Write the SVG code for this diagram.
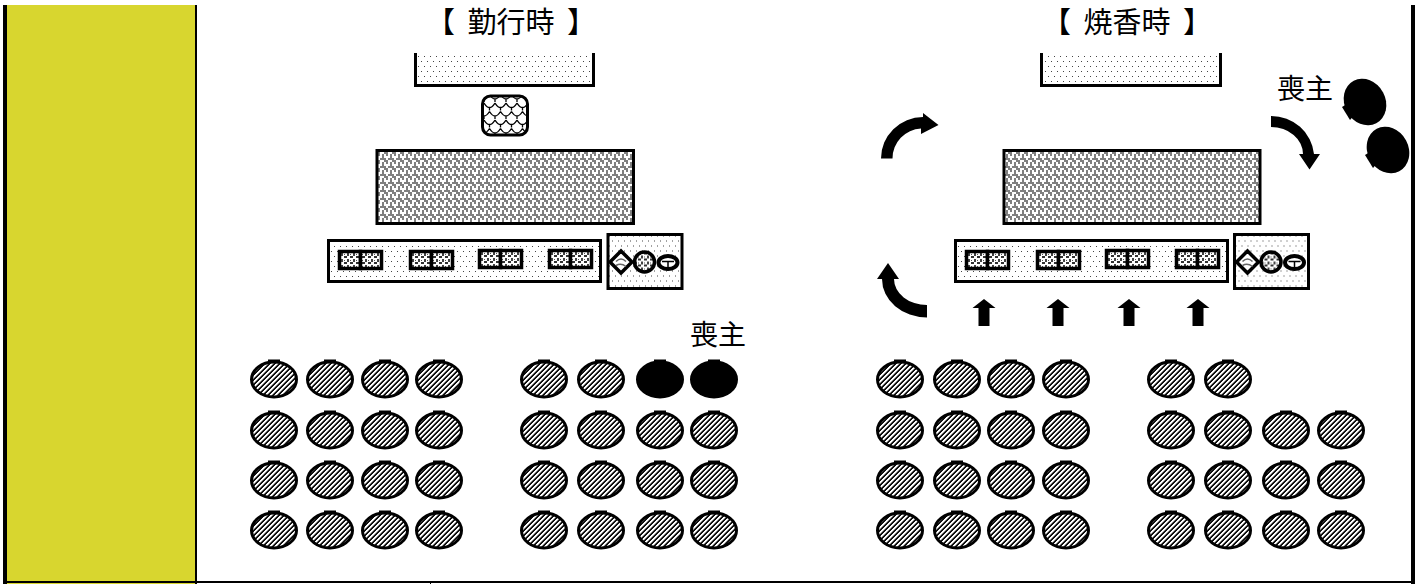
<svg xmlns="http://www.w3.org/2000/svg" width="1415" height="584" viewBox="0 0 1415 584">
<style>
text{font-family:"Noto Sans CJK JP","Liberation Sans",sans-serif;fill:#000;font-size:28px}
.t{word-spacing:6px;font-size:29px}
.b{stroke:#000;stroke-width:3}
.dot{fill:url(#dots)}
.wv{fill:url(#weave)}
.cell{fill:url(#cells);stroke:#000;stroke-width:3.500}
.a{fill:#000}
</style>
<defs>
<pattern id="dots" width="6" height="10" patternUnits="userSpaceOnUse"><rect width="6" height="10" fill="#fff"/><rect x="1" y="1" width="1" height="1" fill="#444"/><rect x="4" y="6" width="1" height="1" fill="#444"/></pattern>
<pattern id="weave" width="8" height="8" patternUnits="userSpaceOnUse"><rect width="8" height="8" fill="#fff"/><path shape-rendering="crispEdges" fill="#808080" d="M0 0h4v2h-4zM2 2h2v2h-2zM6 2h2v4h-2zM0 6h2v2h-2zM4 6h4v2h-4z"/></pattern>
<pattern id="cells" width="6" height="6" patternUnits="userSpaceOnUse"><rect width="6" height="6" fill="#fff"/><rect x="0" y="0" width="3" height="2" fill="#333"/><rect x="3" y="3" width="2" height="3" fill="#444"/><rect x="0" y="4" width="1" height="1" fill="#555"/></pattern>
<pattern id="scale" width="11" height="17" patternUnits="userSpaceOnUse"><rect width="11" height="17" fill="#fff"/><path d="M0 1Q5.500 10 11 1M-5.500 9.500Q0 18.500 5.500 9.500M5.500 9.500Q11 18.500 16.500 9.500M5.500 5.500V8.500M0 14V17M11 14V17" fill="none" stroke="#000" stroke-width="1.300"/></pattern>
<pattern id="hatch" width="5" height="5" patternUnits="userSpaceOnUse"><rect width="5" height="5" fill="#fff"/><path shape-rendering="crispEdges" fill="#999" d="M2 0h1v1h-1zM1 1h1v1h-1zM0 2h1v1h-1zM4 3h1v1h-1zM3 4h1v1h-1z"/><path shape-rendering="crispEdges" fill="#111" d="M3 0h2v1h-2zM2 1h2v1h-2zM1 2h2v1h-2zM0 3h2v1h-2zM0 4h1v1h-1zM4 4h1v1h-1z"/></pattern>
<g id="p"><rect x="-6" y="-20.500" width="12" height="5" fill="#000"/><ellipse cx="0" cy="-0.500" rx="22.500" ry="17.500" fill="url(#hatch)" stroke="#000" stroke-width="3"/></g>
<g id="q"><rect x="-6" y="-20.500" width="12" height="5" fill="#000"/><ellipse cx="0" cy="-0.500" rx="22.500" ry="17.500" fill="#000" stroke="#000" stroke-width="3"/></g>
<g id="pair"><rect x="1.500" y="1.500" width="21" height="17" class="cell"/><rect x="22.500" y="1.500" width="21" height="17" class="cell"/></g>
<g id="alt"><rect x="0" y="0" width="74" height="54" class="dot b"/><path d="M2 27.500L13 16.500L24 27.500L13 38.500Z" fill="#fff" stroke="#000" stroke-width="3.500"/><path d="M8 27Q13 22 18 27M8 31Q13 28 18 32" fill="none" stroke="#666" stroke-width="1.500"/><circle cx="36.500" cy="27.500" r="10" stroke="#000" stroke-width="3.500" fill="url(#cells)"/><ellipse cx="60" cy="28" rx="9.500" ry="6.500" fill="#fff" stroke="#000" stroke-width="4"/><path d="M54 27H66M60 27V33" stroke="#000" stroke-width="1.500"/></g>
<g id="st"><path d="M0 0L11.500 9H5.500V27H-5.500V9H-11.500Z" fill="#000"/></g>
<g id="m"><ellipse rx="24" ry="20.500" transform="rotate(62)" fill="#000"/><path d="M-23 5L-15 18L-8 10L-15 0Z" fill="#000"/></g>
</defs>
<g id="frame">
<rect x="7" y="5" width="188" height="579" fill="#d8d62f"/>
<rect x="3" y="5" width="4" height="579" fill="#000"/>
<rect x="195" y="5" width="2" height="579" fill="#000"/>
<rect x="1411" y="5" width="4" height="579" fill="#000"/>
<rect x="3" y="581" width="1412" height="2" fill="#000"/>
<rect x="430" y="583" width="1" height="1" fill="#000"/>
</g>
<g id="title-left"><text class="t" x="511" y="33" text-anchor="middle" xml:space="preserve">【 勤行時 】</text></g>
<g id="title-right"><text class="t" x="1127" y="33" text-anchor="middle" xml:space="preserve">【 焼香時 】</text></g>
<g id="left-top-table"><path d="M415.500 53V85.500H593.500V53" class="dot b"/></g>
<g id="left-incense"><rect x="482.500" y="96" width="45" height="39" rx="8" fill="url(#scale)" class="b"/></g>
<g id="left-main"><rect x="377" y="150.500" width="256.500" height="73" class="wv b"/></g>
<g id="left-long"><rect x="328.500" y="240.500" width="272" height="41" class="dot b"/>
<use href="#pair" x="338" y="250"/><use href="#pair" x="409" y="250"/><use href="#pair" x="478" y="249"/><use href="#pair" x="548" y="249"/></g>
<g id="left-side"><use href="#alt" x="608" y="234.500"/></g>
<g id="right-top-table"><path d="M1041.500 53V85.500H1220.500V53" class="dot b"/></g>
<g id="right-main"><rect x="1004" y="150.500" width="256" height="73" class="wv b"/></g>
<g id="right-long"><rect x="955.500" y="240.500" width="272" height="41" class="dot b"/>
<use href="#pair" x="965" y="250"/><use href="#pair" x="1036" y="250"/><use href="#pair" x="1105" y="249"/><use href="#pair" x="1175" y="249"/></g>
<g id="right-side"><use href="#alt" x="1234.500" y="234.500"/></g>
<g id="left-label"><text x="718" y="345" text-anchor="middle">喪主</text></g>
<g id="right-label"><text x="1305" y="99" text-anchor="middle">喪主</text></g>
<g id="left-people">
<use href="#p" x="274" y="380"/><use href="#p" x="330" y="380"/><use href="#p" x="385" y="380"/><use href="#p" x="439" y="380"/><use href="#p" x="544" y="380"/><use href="#p" x="601" y="380"/><use href="#q" x="660" y="380"/><use href="#q" x="714" y="380"/>
<use href="#p" x="274" y="431"/><use href="#p" x="330" y="431"/><use href="#p" x="385" y="431"/><use href="#p" x="439" y="431"/><use href="#p" x="544" y="431"/><use href="#p" x="601" y="431"/><use href="#p" x="660" y="431"/><use href="#p" x="714" y="431"/>
<use href="#p" x="274" y="481"/><use href="#p" x="330" y="481"/><use href="#p" x="385" y="481"/><use href="#p" x="439" y="481"/><use href="#p" x="544" y="481"/><use href="#p" x="601" y="481"/><use href="#p" x="660" y="481"/><use href="#p" x="714" y="481"/>
<use href="#p" x="274" y="531"/><use href="#p" x="330" y="531"/><use href="#p" x="385" y="531"/><use href="#p" x="439" y="531"/><use href="#p" x="544" y="531"/><use href="#p" x="601" y="531"/><use href="#p" x="660" y="531"/><use href="#p" x="714" y="531"/>
</g>
<g id="right-people">
<use href="#p" x="900" y="380"/><use href="#p" x="957" y="380"/><use href="#p" x="1011" y="380"/><use href="#p" x="1066" y="380"/><use href="#p" x="1171" y="380"/><use href="#p" x="1228" y="380"/>
<use href="#p" x="900" y="431"/><use href="#p" x="957" y="431"/><use href="#p" x="1011" y="431"/><use href="#p" x="1066" y="431"/><use href="#p" x="1171" y="431"/><use href="#p" x="1228" y="431"/><use href="#p" x="1286" y="431"/><use href="#p" x="1341" y="431"/>
<use href="#p" x="900" y="481"/><use href="#p" x="957" y="481"/><use href="#p" x="1011" y="481"/><use href="#p" x="1066" y="481"/><use href="#p" x="1171" y="481"/><use href="#p" x="1228" y="481"/><use href="#p" x="1286" y="481"/><use href="#p" x="1341" y="481"/>
<use href="#p" x="900" y="531"/><use href="#p" x="957" y="531"/><use href="#p" x="1011" y="531"/><use href="#p" x="1066" y="531"/><use href="#p" x="1171" y="531"/><use href="#p" x="1228" y="531"/><use href="#p" x="1286" y="531"/><use href="#p" x="1341" y="531"/>
</g>
<g id="moving-people">
<use href="#m" x="1365" y="102"/><use href="#m" x="1388" y="150"/>
</g>
<g id="connectors">
<path class="a" d="M881 158.500A42 41.500 0 0 1 923 117L923 113L938.500 125L921 134L921 128.500A30 30 0 0 0 892.500 158.500Z"/>
<path class="a" d="M1271 116A43 42 0 0 1 1314 154L1320 154L1309.500 169.500L1299 154L1303 154A32 27 0 0 0 1271 127Z"/>
<path class="a" d="M927 317.500A45 38.500 0 0 1 882 279L877 279L888 263L899 279L894 279A33 26 0 0 0 927 305Z"/>
<use href="#st" x="984" y="299"/>
<use href="#st" x="1058" y="299"/>
<use href="#st" x="1129" y="299"/>
<use href="#st" x="1198" y="299"/>
</g>
</svg>
